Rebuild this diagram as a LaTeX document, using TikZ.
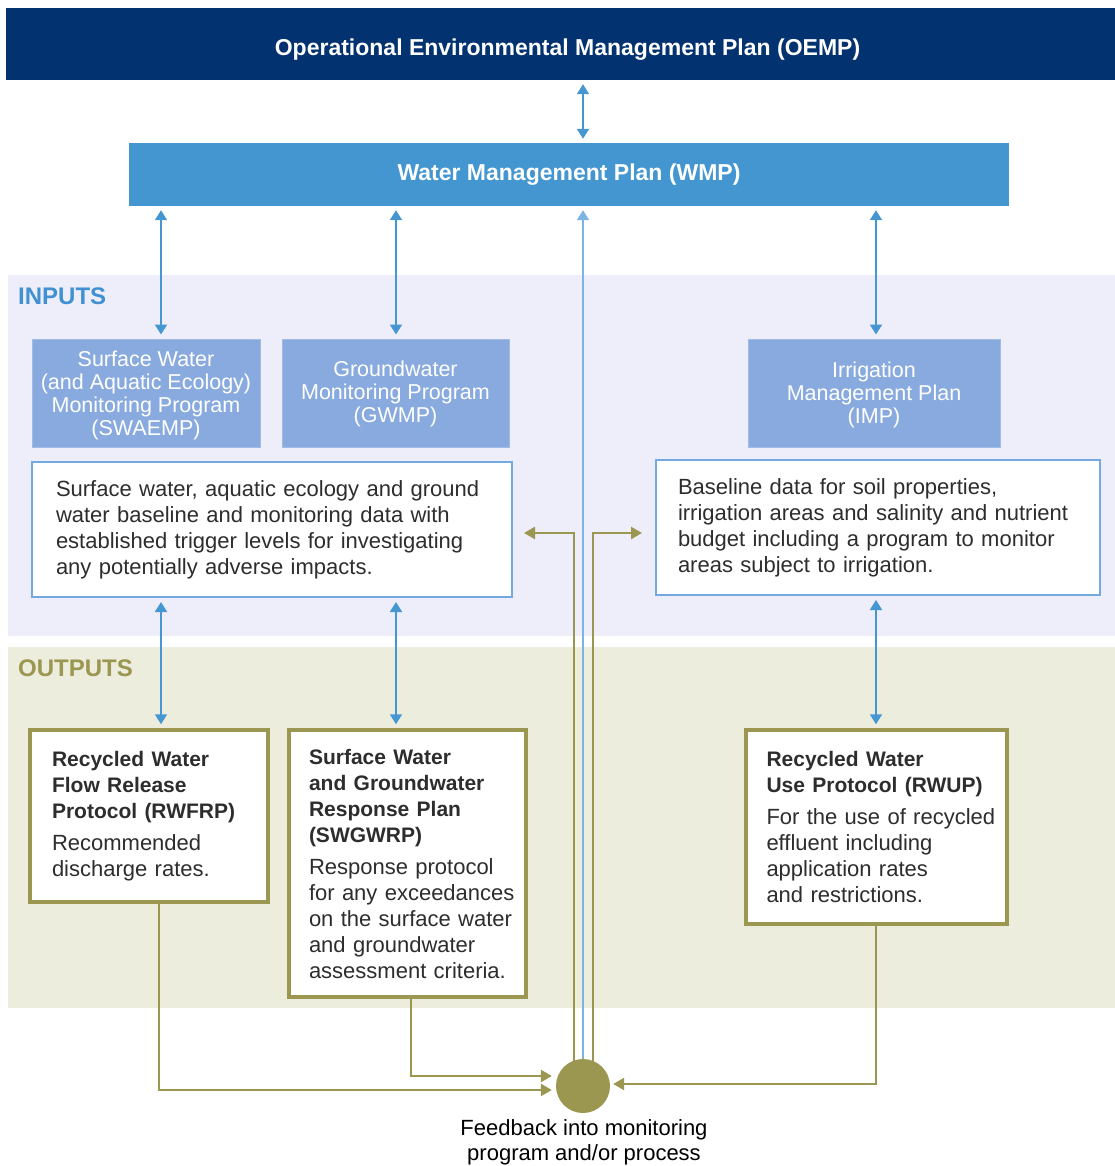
\documentclass[tikz,border=0pt]{standalone}
\usepackage{fontspec}
\setmainfont{Liberation Sans}
\usetikzlibrary{arrows.meta}
\definecolor{navy}{RGB}{3,50,112}
\definecolor{wmpblue}{RGB}{67,150,208}
\definecolor{boxblue}{RGB}{137,170,222}
\definecolor{edgeblue}{RGB}{115,168,225}
\definecolor{arrblue}{RGB}{70,150,210}
\definecolor{lineblue}{RGB}{125,180,230}
\definecolor{inbg}{RGB}{238,238,251}
\definecolor{outbg}{RGB}{237,237,222}
\definecolor{olive}{RGB}{155,150,80}
\definecolor{labblue}{RGB}{65,145,210}
\definecolor{txt}{RGB}{45,45,45}
\newcommand\mynohyph{\hyphenpenalty=10000\relax\exhyphenpenalty=10000\relax\hfuzz=30pt\relax}
\newcommand\ml[1]{\mbox{#1}}
\pgfdeclarelayer{bg}
\pgfdeclarelayer{lines}
\pgfsetlayers{bg,lines,main}
\begin{document}
\begin{tikzpicture}[x=1pt,y=-1pt,
 banner/.style={inner sep=0pt, font=\bfseries\fontsize{23}{27}\selectfont, text=white},
 bluebox/.style={fill=boxblue, draw=boxblue!80!white, line width=1pt, inner sep=0pt, align=center, text=white, font=\fontsize{21.5}{23}\selectfont},
 whitebox/.style={fill=white, draw=edgeblue, line width=2pt, align=left, text=txt, font=\fontsize{22}{26}\selectfont, execute at begin node=\mynohyph},
 outbox/.style={fill=white, draw=olive, line width=3.5pt, align=left, text=txt, font=\fontsize{22}{26}\selectfont, execute at begin node=\mynohyph},
 barrow/.style={arrblue, line width=2pt, {Triangle[length=10pt,width=12pt]}-{Triangle[length=10pt,width=12pt]}, shorten <=4pt, shorten >=4pt},
 oline/.style={olive, line width=2.5pt, -{Triangle[length=11pt,width=12pt]}},
 sect/.style={font=\bfseries\fontsize{24}{28}\selectfont, anchor=west, inner sep=0pt}
]
\useasboundingbox (0,0) rectangle (1115,1166);
\begin{pgfonlayer}{bg}
\fill[inbg] (8,275) rectangle (1115,636);
\fill[outbg] (8,647) rectangle (1115,1008);
\end{pgfonlayer}

\node[banner, fill=navy, minimum width=1109pt, minimum height=72pt] (oemp) at (560.5,44) {\raisebox{-5.5pt}[\height][\depth]{\hspace*{14pt}Operational Environmental Management Plan (OEMP)}};
\node[banner, fill=wmpblue, minimum width=880pt, minimum height=63pt] (wmp) at (569,174.5) {Water Management Plan (WMP)};

\node[sect, text=labblue] (inl) at (18,296) {INPUTS};
\node[sect, text=olive] (outl) at (18,668) {OUTPUTS};

\node[bluebox, minimum width=228pt, minimum height=108pt, text depth=-5.5pt] (swa) at (146,393) {Surface Water\\(and Aquatic Ecology)\\Monitoring Program\\(SWAEMP)};
\node[bluebox, minimum width=227pt, minimum height=108pt, text depth=2.6pt] (gw) at (395.5,393) {Groundwater\\Monitoring Program\\(GWMP)};
\node[bluebox, minimum width=252pt, minimum height=108pt, text depth=-3.4pt] (imp) at (874,393) {Irrigation\\Management Plan\\(IMP)};

\node[whitebox, text width=432pt, inner xsep=24pt, minimum height=135pt] (wl) at (272,529.5) {\ml{Surface water, aquatic ecology and ground}\\\ml{water baseline and monitoring data with}\\\ml{established trigger levels for investigating}\\\ml{any potentially adverse impacts.}};
\node[whitebox, text width=400pt, inner xsep=22pt, minimum height=135pt] (wr) at (878,527.5) {\ml{Baseline data for soil properties,}\\\ml{irrigation areas and salinity and nutrient}\\\ml{budget including a program to monitor}\\\ml{areas subject to irrigation.}};

\node[outbox, text width=194pt, inner xsep=22pt, minimum height=172pt] (o1) at (149,816) {{\bfseries\fontsize{21}{26}\selectfont \ml{Recycled Water}\\\ml{Flow Release}\\\ml{Protocol (RWFRP)}}\\[6pt]\ml{Recommended}\\\ml{discharge rates.}};
\node[outbox, text width=197pt, inner xsep=20pt, minimum height=267pt] (o2) at (407.5,863.5) {{\bfseries\fontsize{21}{26}\selectfont \ml{Surface Water}\\\ml{and Groundwater}\\\ml{Response Plan}\\\ml{(SWGWRP)}}\\[6pt]\ml{Response protocol}\\\ml{for any exceedances}\\\ml{on the surface water}\\\ml{and groundwater}\\\ml{assessment criteria.}};
\node[outbox, text width=220pt, inner xsep=20.5pt, minimum height=194pt] (o3) at (876.5,827) {{\bfseries\fontsize{21}{26}\selectfont \ml{Recycled Water}\\\ml{Use Protocol (RWUP)}}\\[6pt]\ml{For the use of recycled}\\\ml{effluent including}\\\ml{application rates}\\\ml{and restrictions.}};

\node[circle, fill=olive, minimum size=54pt, inner sep=0pt] (fb) at (583,1086) {};
\node[font=\fontsize{22}{25}\selectfont, align=center, text=black, inner sep=0pt] (fbl) at (584,1142) {Feedback into monitoring\\program and/or process};

\coordinate (c1) at (161,0);
\coordinate (c2) at (396,0);
\coordinate (c3) at (876,0);
\coordinate (cm) at (583,0);
\coordinate (olx) at (574,0);
\coordinate (orx) at (593,0);
\coordinate (f1) at (159,0);
\coordinate (f2) at (411,0);
\coordinate (tl) at (524,533);
\coordinate (tr) at (642,533);

\begin{pgfonlayer}{lines}
\draw[barrow] (oemp.south -| cm) -- (wmp.north -| cm);
\draw[barrow] (wmp.south -| c1) -- (swa.north -| c1);
\draw[barrow] (wmp.south -| c2) -- (gw.north -| c2);
\draw[barrow] (wmp.south -| c3) -- (imp.north -| c3);
\draw[barrow] (wl.south -| c1) -- (o1.north -| c1);
\draw[barrow] (wl.south -| c2) -- (o2.north -| c2);
\draw[barrow] (wr.south -| c3) -- (o3.north -| c3);
\draw[lineblue, line width=2pt, -{Triangle[length=10pt,width=12pt]}, shorten >=4pt] (fb.center) -- (wmp.south -| fb.center);
\draw[oline] (fb.center -| olx) |- (tl);
\draw[oline] (fb.center -| orx) |- (tr);
\draw[oline, shorten >=4pt] (o1.south -| f1) |- ([yshift=-4pt]fb.west);
\draw[oline, shorten >=4pt] (o2.south -| f2) |- ([yshift=10pt]fb.west);
\draw[oline, shorten >=3pt] (o3.south -| c3) |- ([yshift=2pt]fb.east);
\end{pgfonlayer}
\end{tikzpicture}
\end{document}
